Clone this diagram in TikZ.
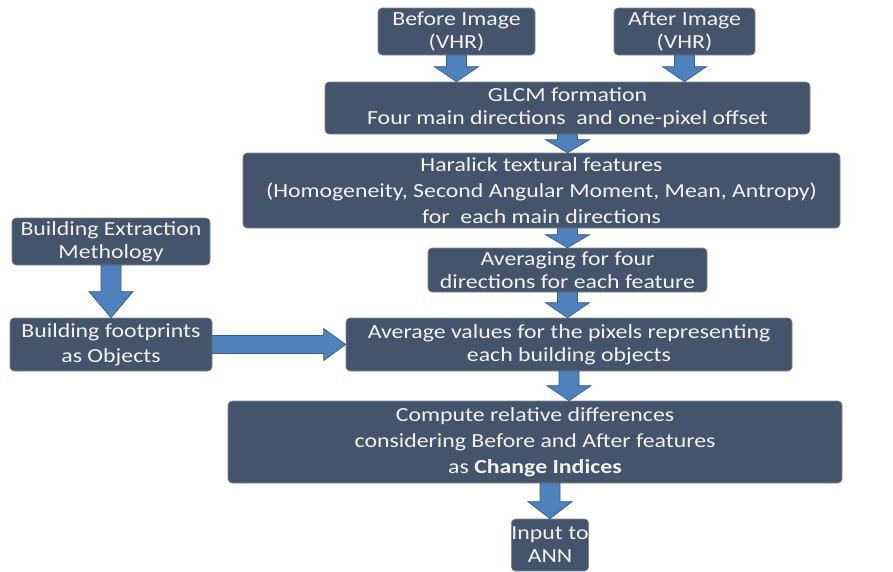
\documentclass[tikz,border=0pt]{standalone}
\usepackage{fontspec}
\setmainfont{Carlito}[FakeStretch=1.19]
\usetikzlibrary{calc}
\definecolor{boxfill}{RGB}{68,84,106}
\definecolor{boxtext}{RGB}{242,242,242}
\definecolor{arrowfill}{RGB}{79,129,189}
\definecolor{arrowedge}{RGB}{56,93,138}
\tikzset{
  stepbox/.style 2 args={draw=boxfill!70!white, line width=0.6pt, fill=boxfill,
                rounded corners=4pt, text=boxtext, align=center, inner sep=0pt,
                minimum width=#1, minimum height=#2,
                font=\fontsize{20}{23}\selectfont},
  fat arrow/.style={draw=arrowedge, fill=arrowfill, line width=0.7pt},
}
% block arrow going down, placed on the column of node #1
\newcommand\fatdown[4]{%
  \path[fat arrow] let \p1=(#1), \p2=(#2.south), \p3=(#3.north) in
    (\x1-10pt,\y2) -- (\x1+10pt,\y2) -- (\x1+10pt,\y3+#4) -- (\x1+22pt,\y3+#4)
    -- (\x1,\y3) -- (\x1-22pt,\y3+#4) -- (\x1-10pt,\y3+#4) -- cycle;}
% block arrow going right
\newcommand\fatright[3]{%
  \path[fat arrow] let \p1=(#1.east), \p2=(#2.west) in
    (\x1,\y1+9pt) -- (\x2-#3,\y1+9pt) -- (\x2-#3,\y1+16pt) -- (\x2,\y1)
    -- (\x2-#3,\y1-16pt) -- (\x2-#3,\y1-9pt) -- (\x1,\y1-9pt) -- cycle;}

\begin{document}
\begin{tikzpicture}[x=1pt,y=-1pt]
\fill[white] (0,0) rectangle (893,571);
\useasboundingbox (0,0) rectangle (893,571);

\node[stepbox={157pt}{47pt}] (before) at (456.5,31.5) {Before Image\\(VHR)};
\node[stepbox={141pt}{47pt}] (after) at (684.5,31.5) {After Image\\(VHR)};
\node[stepbox={485pt}{52pt}] (glcm) at (567.5,108) {GLCM formation\\Four main directions\ \ and one-pixel offset};
\node[stepbox={597pt}{75pt}] (haralick) at (541.5,190.5)
  {Haralick textural features\\[3pt](Homogeneity, Second Angular Moment, Mean, Antropy)\\[3pt]for\ \ each main directions};
\node[stepbox={198pt}{47pt}] (bext) at (111,241.5)
  {\fontsize{20}{19}\selectfont Building Extraction\\Methology};
\node[stepbox={279pt}{44pt}] (avgfour) at (567.5,270)
  {\fontsize{20}{20}\selectfont Averaging for four\\directions for each feature};
\node[stepbox={202pt}{53pt}] (bfoot) at (111,344.5)
  {Building footprints\\[2pt]as Objects};
\node[stepbox={446pt}{53pt}] (avgval) at (569,344.5)
  {Average values for the pixels representing\\each building objects};
\node[stepbox={614pt}{82pt}] (compute) at (535,442)
  {Compute relative differences\\[3pt]considering Before and After features\\[3pt]as \textbf{Change Indices}};
\node[stepbox={76pt}{52pt}] (ann) at (550,545) {Input to\\ANN};

% connectors
\fatdown{before}{before}{glcm}{15pt}
\fatdown{after}{after}{glcm}{15pt}
\fatdown{glcm}{glcm}{haralick}{13pt}
\fatdown{avgfour}{haralick}{avgfour}{13pt}
\fatdown{avgfour}{avgfour}{avgval}{15pt}
\fatdown{avgval}{avgval}{compute}{15pt}
\fatdown{ann}{compute}{ann}{17pt}
\fatdown{bext}{bext}{bfoot}{26pt}
\fatright{bfoot}{avgval}{22pt}
\end{tikzpicture}
\end{document}
